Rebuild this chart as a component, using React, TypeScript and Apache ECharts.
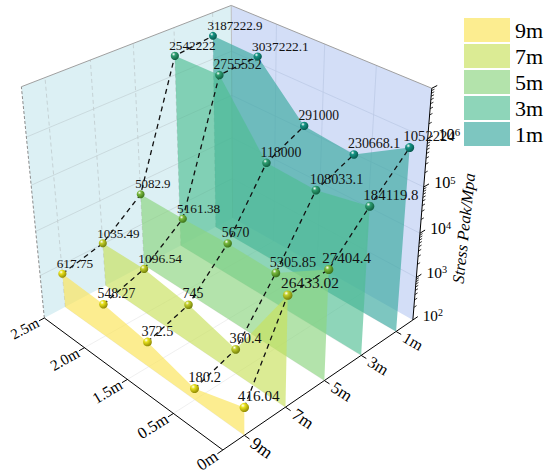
import React, { useEffect, useRef } from 'react';
import * as echarts from 'echarts';

// ---------- data ----------
const xLabels = ['2.5m', '2.0m', '1.5m', '0.5m', '0m'];
const seriesNames = ['9m', '7m', '5m', '3m', '1m'];
const stress9m = [617.75, 548.27, 372.5, 180.2, 416.04];
const stress7m = [1035.49, 1096.54, 745, 360.4, 26433.02];
const stress5m = [5082.9, 5161.38, 5670, 5305.85, 27404.4];
const stress3m = [2542222, 2755552, 118000, 108033.1, 184119.8];
const stress1m = [3187222.9, 3037222.1, 291000, 230668.1, 1052224];
const zExponents = [2, 3, 4, 5, 6, 7];
const zTitle = 'Stress Peak/Mpa';

const seriesValues = [stress9m, stress7m, stress5m, stress3m, stress1m];

// ---------- styles ----------
const W = 550;
const H = 474;
const FONT = '"Liberation Serif", "Times New Roman", serif';
const wallColors = [
  'rgba(250,229,92,0.68)',
  'rgba(200,224,92,0.66)',
  'rgba(140,212,128,0.66)',
  'rgba(78,190,146,0.64)',
  'rgba(58,168,160,0.66)',
];
const ballColors = ['#e9e21c', '#c3cf2a', '#79b93c', '#2f9f72', '#159383'];
const ballDark = ['#8a8300', '#6d7a08', '#356d16', '#0d5a3c', '#06544a'];

// ---------- 3D frame projection (frame corners / frame grid, in page pixels) ----------
// [u (x-axis pos), v (y-axis pos), w (z fraction), px, py]
const frameAnchors: number[][] = [
  [0, 0, 0, 43, 319],
  [1, 0, 0, 222, 447],
  [1, 1, 0, 412, 322],
  [0, 1, 0, 233, 212],
  [0, 0, 1, 21, 85],
  [0, 1, 1, 231, 9],
  [1, 1, 1, 432, 87],
  [0, 0.1, 1, 45, 76],
  [0, 0.3, 1, 90, 60],
  [0, 0.5, 1, 133, 45],
  [1, 1, 0.2, 417, 279],
  [1, 1, 0.4, 421, 233],
  [1, 1, 0.6, 424, 187],
  [1, 1, 0.8, 428, 137],
  [0.25, 0, 0, 87, 351],
  [0.5, 0, 0, 128, 381],
  [0.75, 0, 0, 173, 415],
  [1, 0.1, 0, 245, 433],
  [1, 0.3, 0, 285, 406],
  [1, 0.5, 0, 325, 380],
  [1, 0.7, 0, 360, 356],
  [1, 0.9, 0, 395, 334],
];

function solveProjection(anchors: number[][]): number[] {
  const N = 11;
  const M: number[][] = Array.from({ length: N }, () => new Array(N + 1).fill(0));
  for (const [X, Y, Z, x, y] of anchors) {
    const rows: [number[], number][] = [
      [[X, Y, Z, 1, 0, 0, 0, 0, -x * X, -x * Y, -x * Z], x],
      [[0, 0, 0, 0, X, Y, Z, 1, -y * X, -y * Y, -y * Z], y],
    ];
    for (const [r, b] of rows) {
      for (let i = 0; i < N; i++) {
        for (let j = 0; j < N; j++) M[i][j] += r[i] * r[j];
        M[i][N] += r[i] * b;
      }
    }
  }
  for (let c = 0; c < N; c++) {
    let piv = c;
    for (let r = c + 1; r < N; r++) if (Math.abs(M[r][c]) > Math.abs(M[piv][c])) piv = r;
    [M[c], M[piv]] = [M[piv], M[c]];
    for (let r = 0; r < N; r++) {
      if (r === c) continue;
      const f = M[r][c] / M[c][c];
      for (let k = c; k <= N; k++) M[r][k] -= f * M[c][k];
    }
  }
  return M.map((row, i) => row[N] / row[i]);
}

const P = solveProjection(frameAnchors);
function proj(u: number, v: number, w: number): number[] {
  const d = P[8] * u + P[9] * v + P[10] * w + 1;
  return [
    (P[0] * u + P[1] * v + P[2] * w + P[3]) / d,
    (P[4] * u + P[5] * v + P[6] * w + P[7]) / d,
    d,
  ];
}
const dRef = proj(0.5, 0.5, 0.5)[2];
const scaleAt = (u: number, v: number, w: number) => dRef / proj(u, v, w)[2];

const zMin = zExponents[0];
const zMax = zExponents[zExponents.length - 1];
const wOf = (val: number) => (Math.log10(val) - zMin) / (zMax - zMin);
const uOf = (i: number) => i / (xLabels.length - 1);
const vOf = (k: number) => (k + 0.5) / seriesNames.length;

function makeC(api: any) {
  return (u: number, v: number, w: number) => {
    const p = proj(u, v, w);
    return api.coord([p[0], p[1]]);
  };
}

function line(a: number[], b: number[], style: any) {
  return { type: 'line', shape: { x1: a[0], y1: a[1], x2: b[0], y2: b[1] }, style };
}

function angleOf(a: number[], b: number[]) {
  return Math.atan2(-(b[1] - a[1]), b[0] - a[0]);
}

function renderFrame(params: any, api: any) {
  const c = makeC(api);
  const ch: any[] = [];
  ch.push({
    type: 'polygon',
    shape: { points: [c(0, 0, 0), c(0, 1, 0), c(0, 1, 1), c(0, 0, 1)] },
    style: { fill: '#dcf0f4' },
  });
  ch.push({
    type: 'polygon',
    shape: { points: [c(0, 1, 0), c(1, 1, 0), c(1, 1, 1), c(0, 1, 1)] },
    style: { fill: '#d3def7' },
  });
  const floorStyle = { stroke: '#ebebeb', lineWidth: 0.8 };
  for (let i = 1; i < xLabels.length - 1; i++) ch.push(line(c(uOf(i), 0, 0), c(uOf(i), 1, 0), floorStyle));
  for (let k = 0; k < seriesNames.length; k++) ch.push(line(c(0, vOf(k), 0), c(1, vOf(k), 0), floorStyle));
  const gridW = { stroke: '#c5d4d8', lineWidth: 0.8 };
  const gridR = { stroke: '#bccae6', lineWidth: 0.8 };
  for (let e = 1; e < zExponents.length - 1; e++) {
    const w = (zExponents[e] - zMin) / (zMax - zMin);
    ch.push(line(c(0, 0, w), c(0, 1, w), gridW));
    ch.push(line(c(0, 1, w), c(1, 1, w), gridR));
  }
  for (let k = 0; k < seriesNames.length; k++) {
    ch.push(line(c(0, vOf(k), 0), c(0, vOf(k), 1), { stroke: '#bfcacd', lineWidth: 0.8, lineDash: [4, 3] }));
  }
  for (let i = 1; i < xLabels.length - 1; i++) ch.push(line(c(uOf(i), 1, 0), c(uOf(i), 1, 1), gridR));
  ch.push(line(c(0, 0, 0), c(0, 0, 1), { stroke: '#8c8c8c', lineWidth: 1, lineDash: [3, 2] }));
  ch.push(line(c(0, 0, 1), c(0, 1, 1), { stroke: '#a0a0a0', lineWidth: 1 }));
  ch.push(line(c(0, 1, 1), c(1, 1, 1), { stroke: '#a0a0a0', lineWidth: 1 }));
  ch.push(line(c(0, 1, 0), c(0, 1, 1), { stroke: '#b4b4b4', lineWidth: 0.8 }));
  return { type: 'group', children: ch };
}

function renderAxes(params: any, api: any) {
  const c = makeC(api);
  const ch: any[] = [];
  const axisStyle = { stroke: '#000', lineWidth: 1 };
  ch.push(line(c(0, 0, 0), c(1, 0, 0), axisStyle));
  xLabels.forEach((lab, i) => {
    const u = uOf(i);
    ch.push(line(c(u, 0, 0), c(u, -0.025, 0), axisStyle));
    const a = c(u, -0.03, 0);
    const rot = angleOf(c(u, 0, 0), c(u, 0.2, 0));
    const sc = scaleAt(u, 0, 0);
    ch.push({
      type: 'text',
      x: a[0],
      y: a[1],
      rotation: rot,
      style: {
        text: lab,
        fontFamily: FONT,
        fontSize: 15.5 * sc,
        fill: '#000',
        align: 'right',
        verticalAlign: 'middle',
        textAlign: 'right',
        textVerticalAlign: 'middle',
      },
    });
  });
  ch.push(line(c(1, 0, 0), c(1, 1, 0), axisStyle));
  seriesNames.forEach((lab, k) => {
    const v = vOf(k);
    ch.push(line(c(1, v, 0), c(1.025, v, 0), axisStyle));
    const a = c(1.04, v, 0);
    const rot = angleOf(c(1, v, 0), c(1.2, v, 0));
    const sc = scaleAt(1, v, 0);
    ch.push({
      type: 'text',
      x: a[0],
      y: a[1],
      rotation: rot,
      style: {
        text: lab,
        fontFamily: FONT,
        fontSize: 16.5 * sc,
        fill: '#000',
        align: 'left',
        verticalAlign: 'middle',
        textAlign: 'left',
        textVerticalAlign: 'middle',
      },
    });
  });
  ch.push(line(c(1, 1, 0), c(1, 1, 1), axisStyle));
  for (let e = 0; e < zExponents.length; e++) {
    const w = (zExponents[e] - zMin) / (zMax - zMin);
    ch.push(line(c(1, 1, w), c(1, 1.03, w), axisStyle));
    if (e < zExponents.length - 1) {
      for (let m = 2; m <= 9; m++) {
        const wm = (zExponents[e] + Math.log10(m) - zMin) / (zMax - zMin);
        ch.push(line(c(1, 1, wm), c(1, 1.016, wm), { stroke: '#000', lineWidth: 0.8 }));
      }
      const a = c(1, 1.06, w);
      const sc = scaleAt(1, 1, w);
      ch.push({
        type: 'text',
        x: a[0],
        y: a[1] + 2,
        style: {
          text: `{a|10}{b|${zExponents[e]}}`,
          align: 'left',
          verticalAlign: 'middle',
          textAlign: 'left',
          textVerticalAlign: 'middle',
          rich: {
            a: { fontFamily: FONT, fontSize: 16 * sc, fill: '#000', color: '#000' },
            b: { fontFamily: FONT, fontSize: 10.5 * sc, fill: '#000', color: '#000', verticalAlign: 'top' },
          },
        },
      });
    }
  }
  const t = c(1, 1, 0.5);
  ch.push({
    type: 'text',
    x: t[0] + 42,
    y: t[1] + 18,
    rotation: (84 * Math.PI) / 180,
    style: {
      text: zTitle,
      fontFamily: FONT,
      fontStyle: 'italic',
      fontSize: 16.5,
      fill: '#000',
      align: 'center',
      verticalAlign: 'middle',
      textAlign: 'center',
      textVerticalAlign: 'middle',
    },
  });
  return { type: 'group', children: ch };
}

function makeWallRender(k: number) {
  return (params: any, api: any) => {
    if (params.dataIndex !== 0) return null;
    const c = makeC(api);
    const v = vOf(k);
    const pts: number[][] = [];
    for (let j = 0; j < xLabels.length; j++) {
      pts.push(c(uOf(api.value(0, j)), v, wOf(api.value(1, j))));
    }
    pts.push(c(1, v, 0));
    pts.push(c(0, v, 0));
    return { type: 'polygon', shape: { points: pts }, style: { fill: wallColors[k] } };
  };
}

function renderDashes(params: any, api: any) {
  const c = makeC(api);
  const u = uOf(api.value(0));
  const pts: number[][] = [];
  for (let k = 0; k < seriesNames.length; k++) pts.push(c(u, vOf(k), wOf(api.value(k + 1))));
  return {
    type: 'polyline',
    shape: { points: pts },
    style: { stroke: '#111', lineWidth: 1.3, lineDash: [5, 4], fill: 'none' },
  };
}

function renderPoints(params: any, api: any) {
  const c = makeC(api);
  const k = api.value(0);
  const i = api.value(1);
  const val = api.value(2);
  const u = uOf(i);
  const v = vOf(k);
  const w = wOf(val);
  const p = c(u, v, w);
  const sc = scaleAt(u, v, w);
  const r = 4.3 * sc;
  return {
    type: 'group',
    children: [
      {
        type: 'circle',
        shape: { cx: p[0], cy: p[1], r },
        style: {
          fill: new echarts.graphic.RadialGradient(0.35, 0.3, 0.75, [
            { offset: 0, color: '#ffffff' },
            { offset: 0.3, color: ballColors[k] },
            { offset: 1, color: ballDark[k] },
          ]),
        },
      },
      {
        type: 'text',
        x: p[0] - 6 * sc,
        y: p[1] - 11 * sc,
        style: {
          text: String(val),
          fontFamily: FONT,
          fontSize: 14 * sc,
          fill: '#111',
          align: 'left',
          verticalAlign: 'middle',
          textAlign: 'left',
          textVerticalAlign: 'middle',
        },
      },
    ],
  };
}

function buildOption() {
  const wallSeries: any[] = [];
  for (let k = seriesNames.length - 1; k >= 0; k--) {
    wallSeries.push({
      type: 'custom',
      name: seriesNames[k],
      coordinateSystem: 'cartesian2d',
      silent: true,
      clip: false,
      z: 3,
      itemStyle: { color: wallColors[k] },
      data: seriesValues[k].map((val, i) => [i, val]),
      renderItem: makeWallRender(k),
    });
  }
  const dashData = xLabels.map((_, i) => [i, ...seriesValues.map((s) => s[i])]);
  const pointData: number[][] = [];
  seriesValues.forEach((s, k) => s.forEach((val, i) => pointData.push([k, i, val])));
  return {
    animation: false,
    grid: { left: 0, right: 0, top: 0, bottom: 0 },
    xAxis: { type: 'value', min: 0, max: W, show: false },
    yAxis: { type: 'value', min: 0, max: H, inverse: true, show: false },
    legend: {
      data: seriesNames,
      orient: 'vertical',
      left: 464,
      top: 18,
      padding: 0,
      itemWidth: 46,
      itemHeight: 24,
      itemGap: 2,
      icon: 'rect',
      selectedMode: false,
      textStyle: { fontFamily: FONT, fontSize: 22, color: '#000', lineHeight: 24 },
    },
    series: [
      {
        type: 'custom',
        name: 'frame',
        coordinateSystem: 'cartesian2d',
        silent: true,
        clip: false,
        z: 1,
        data: [[0, 0]],
        renderItem: renderFrame,
      },
      {
        type: 'custom',
        name: 'axes',
        coordinateSystem: 'cartesian2d',
        silent: true,
        clip: false,
        z: 2,
        data: [[0, 0]],
        renderItem: renderAxes,
      },
      ...wallSeries,
      {
        type: 'custom',
        name: 'links',
        coordinateSystem: 'cartesian2d',
        silent: true,
        clip: false,
        z: 4,
        data: dashData,
        renderItem: renderDashes,
      },
      {
        type: 'custom',
        name: 'points',
        coordinateSystem: 'cartesian2d',
        silent: true,
        clip: false,
        z: 5,
        data: pointData,
        renderItem: renderPoints,
      },
    ],
  };
}

export default function App() {
  const ref = useRef<HTMLDivElement>(null);
  useEffect(() => {
    if (!ref.current) return;
    const chart = echarts.init(ref.current, undefined, { renderer: 'svg' });
    chart.setOption(buildOption() as any);
    return () => chart.dispose();
  }, []);
  return (
    <div
      ref={ref}
      style={{ position: 'fixed', left: 0, top: 0, width: W, height: H, background: '#fff' }}
    />
  );
}
